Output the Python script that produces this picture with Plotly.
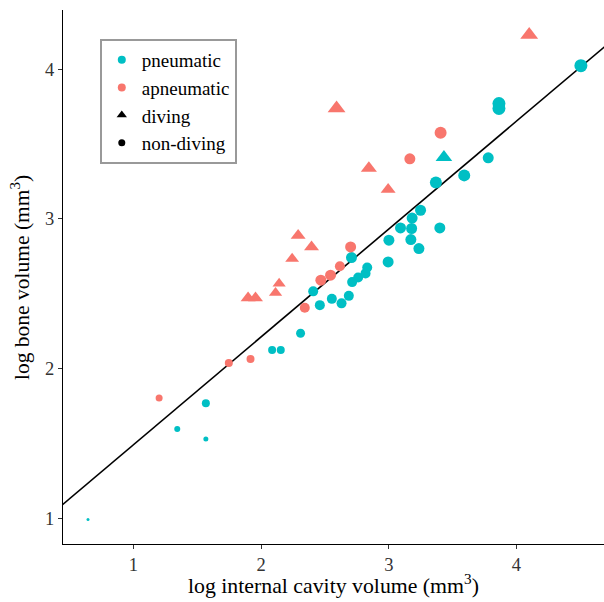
import plotly.graph_objects as go

# ---- data (log10 volumes) ----
pneu_x = [0.644, 1.343, 1.567, 1.567, 2.086, 2.154, 2.309, 2.460, 2.408, 2.554,
          2.630, 2.687, 2.713, 2.760, 2.818, 2.831, 2.708, 2.995, 3.001, 3.092,
          3.179, 3.183, 3.173, 3.249, 3.236, 3.400, 3.369, 3.591, 3.779, 3.863,
          3.863, 4.505]
pneu_y = [0.990, 1.595, 1.768, 1.528, 2.123, 2.123, 2.235, 2.423, 2.515, 2.465,
          2.435, 2.485, 2.577, 2.608, 2.635, 2.675, 2.741, 2.712, 2.857, 2.939,
          2.935, 3.005, 2.861, 3.057, 2.801, 2.939, 3.243, 3.290, 3.407, 3.770,
          3.737, 4.023]
pneu_s = [3, 6, 8, 5, 8, 8, 9, 10, 10, 10,
          10, 10, 10, 10, 10, 10, 11, 11, 11, 11,
          11, 11, 11, 11, 11, 11, 12, 12, 11, 13,
          13, 13]

pneu_dive_x = [3.432]
pneu_dive_y = [3.411]
pneu_dive_s = [14.5]

apneu_x = [1.201, 1.747, 1.917, 2.342, 2.468, 2.544, 2.617, 2.701, 3.165, 3.406]
apneu_y = [1.803, 2.037, 2.063, 2.405, 2.590, 2.623, 2.683, 2.812, 3.401, 3.575]
apneu_s = [7, 8, 8, 10, 11, 11, 10, 11, 11, 12]

apneu_dive_x = [1.898, 1.956, 2.113, 2.141, 2.243, 2.290, 2.395, 2.591, 2.844, 2.995, 4.100]
apneu_dive_y = [2.471, 2.471, 2.505, 2.567, 2.733, 2.889, 2.811, 3.738, 3.338, 3.196, 4.229]
apneu_dive_s = [13, 13, 11.5, 11.5, 12, 13, 13, 15.5, 14, 13, 15.5]

# regression line y = a + b x
reg_intercept = 0.770
reg_slope = 0.7205

x_range = [0.448, 4.686]
y_range = [0.827, 4.395]

x_title = "log internal cavity volume (mm<sup>3</sup>)"
y_title = "log bone volume (mm<sup>3</sup>)"

CYAN = "#00BFC4"
RED = "#F8766D"
FONT = "Liberation Serif, Times New Roman, DejaVu Serif, serif"

fig = go.Figure()

# regression line across the x range
lx = [x_range[0] - 0.03, x_range[1] + 0.05]
ly = [reg_intercept + reg_slope * v for v in lx]
fig.add_trace(go.Scatter(x=lx, y=ly, mode="lines",
                         line=dict(color="black", width=1.6),
                         showlegend=False, hoverinfo="skip"))

def pts(x, y, col, sizes, sym):
    return go.Scatter(x=x, y=y, mode="markers", showlegend=False,
                      marker=dict(color=col, size=sizes, symbol=sym,
                                  opacity=1, line=dict(width=0)))

fig.add_trace(pts(pneu_x, pneu_y, CYAN, pneu_s, "circle"))
fig.add_trace(pts(apneu_x, apneu_y, RED, apneu_s, "circle"))
fig.add_trace(pts(apneu_dive_x, apneu_dive_y, RED, apneu_dive_s, "triangle-up"))
fig.add_trace(pts(pneu_dive_x, pneu_dive_y, CYAN, pneu_dive_s, "triangle-up"))

# legend entries
legend_items = [("pneumatic", CYAN, "circle", 8),
                ("apneumatic", RED, "circle", 8),
                ("diving", "black", "triangle-up", 9),
                ("non-diving", "black", "circle", 7)]
for name, col, sym, sz in legend_items:
    fig.add_trace(go.Scatter(x=[None], y=[None], mode="markers", name=name,
                             marker=dict(color=col, symbol=sym, size=sz, opacity=1)))

axis_common = dict(showgrid=False, zeroline=False, showline=True,
                   linecolor="black", linewidth=1, ticks="outside",
                   ticklen=4, tickwidth=1, tickcolor="#333333", automargin=False,
                   tickfont=dict(family=FONT, size=18.5, color="#333333"))

fig.update_layout(
    width=604, height=602,
    margin=dict(l=63, r=0, t=10, b=58),
    paper_bgcolor="white", plot_bgcolor="white",
    font=dict(family=FONT, color="black"),
    xaxis=dict(range=x_range, tickvals=[1, 2, 3, 4], **axis_common),
    yaxis=dict(range=y_range, tickvals=[1, 2, 3, 4], **axis_common),
    legend=dict(x=0.068, y=0.946, xanchor="left", yanchor="top",
                bordercolor="#999999", borderwidth=2, bgcolor="white",
                font=dict(family=FONT, size=19, color="black"),
                itemwidth=30, tracegroupgap=0),
    annotations=[
        dict(text=x_title, xref="paper", yref="paper", x=0.5, y=-0.0749,
             xanchor="center", yanchor="middle", showarrow=False,
             font=dict(family=FONT, size=21.8, color="black")),
        dict(text=y_title, xref="paper", yref="paper", x=-0.0795, y=0.5,
             xanchor="center", yanchor="middle", showarrow=False, textangle=-90,
             font=dict(family=FONT, size=21.5, color="black")),
    ],
)

fig.write_html(
    "out.html",
    config={"displayModeBar": False},
    post_script="document.body.style.margin='0px';document.body.style.overflow='hidden';",
)
